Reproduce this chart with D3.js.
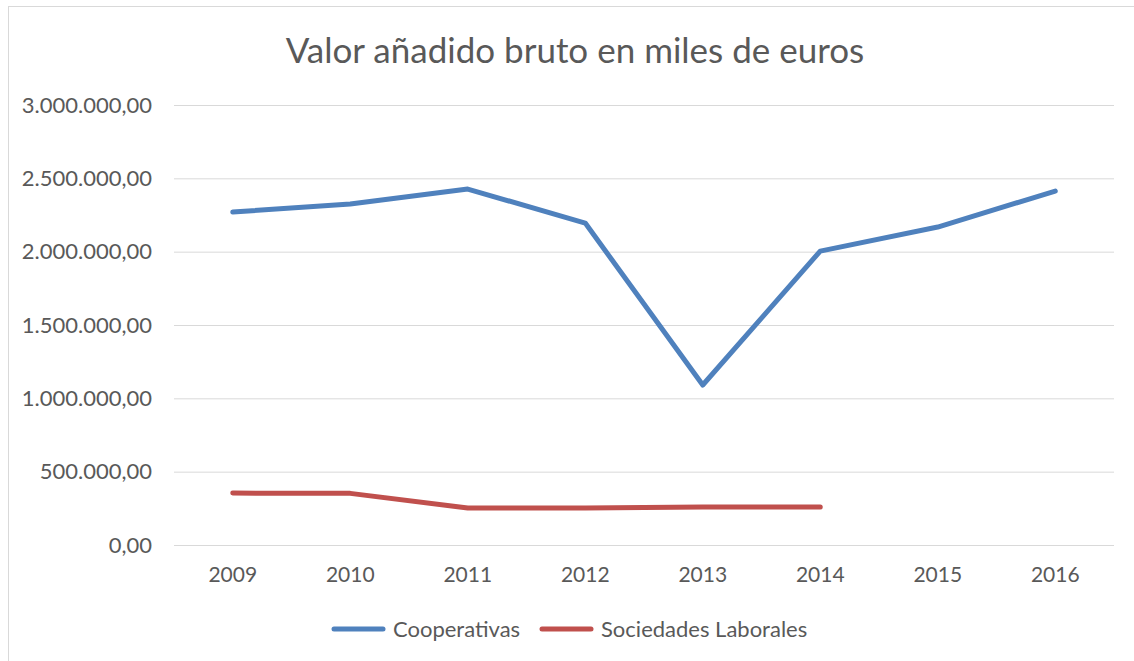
<!doctype html>
<html lang="es">
<head>
<meta charset="utf-8">
<style>
  body { margin: 0; background: #fff; }
  text { font-family: Lato, "Noto Sans", sans-serif; fill: #595959; }
</style>
</head>
<body>
<div id="grafico"></div>
<script src="https://d3js.org/d3.v7.min.js"></script>
<script>

var anios = ["2009", "2010", "2011", "2012", "2013", "2014", "2015", "2016"];
var cooperativas = [2270000, 2325000, 2427000, 2195000, 1091000, 2004000, 2168000, 2413000];
var sociedades = [354000, 352000, 252000, 252000, 259000, 259000];
var ticksY = [0, 500000, 1000000, 1500000, 2000000, 2500000, 3000000];

var w = 1134, h = 661;
var margen = {izq: 174, der: 1114, arriba: 105, abajo: 545};

var svg = d3.select("#grafico").append("svg").attr("width", w).attr("height", h);

// marco del gráfico (solo se ven los bordes izquierdo y superior)
svg.append("rect").attr("x", 8.5).attr("y", 6.5).attr("width", w + 20).attr("height", h + 20)
  .attr("fill", "#fff").attr("stroke", "#d9d9d9");

var x = d3.scaleBand().domain(anios).range([margen.izq, margen.der]);
var y = d3.scaleLinear().domain([0, 3000000]).range([margen.abajo, margen.arriba]);

var formato = d3.formatLocale({decimal: ",", thousands: ".", grouping: [3], currency: ["", "€"]}).format(",.2f");

// rejilla + etiquetas Y
var ejeY = d3.axisLeft(y).tickValues(ticksY).tickFormat(formato).tickSize(-(margen.der - margen.izq)).tickPadding(22);
var gY = svg.append("g").attr("transform", "translate(" + margen.izq + ",0)").call(ejeY);
gY.select(".domain").remove();
gY.selectAll("line").attr("stroke", "#d9d9d9").attr("stroke-width", 1);
gY.selectAll("text").style("font-size", "22px").attr("fill", "#595959");

// etiquetas X
var ejeX = d3.axisBottom(x).tickSize(0).tickPadding(22);
var gX = svg.append("g").attr("transform", "translate(0," + margen.abajo + ")").call(ejeX);
gX.select(".domain").remove();
gX.selectAll("text").style("font-size", "21px").attr("fill", "#595959");

var linea = d3.line()
  .x(function(d, i) { return x(anios[i]) + x.bandwidth() / 2; })
  .y(function(d) { return y(d); });

var series = [
  {nombre: "Cooperativas", valores: cooperativas, color: "#4f81bd"},
  {nombre: "Sociedades Laborales", valores: sociedades, color: "#c0504d"}
];

svg.selectAll("path.serie").data(series).enter().append("path")
  .attr("class", "serie")
  .attr("d", function(d) { return linea(d.valores); })
  .attr("fill", "none")
  .attr("stroke", function(d) { return d.color; })
  .attr("stroke-width", 5)
  .attr("stroke-linejoin", "round")
  .attr("stroke-linecap", "round");

// título
svg.append("text").attr("x", 575).attr("y", 63).attr("text-anchor", "middle")
  .style("font-size", "35px").text("Valor añadido bruto en miles de euros");

// leyenda
var posLeyenda = [332, 540];
var leyenda = svg.selectAll("g.leyenda").data(series).enter().append("g")
  .attr("class", "leyenda")
  .attr("transform", function(d, i) { return "translate(" + posLeyenda[i] + ",629)"; });
leyenda.append("line").attr("x1", 2).attr("x2", 51).attr("y1", 0).attr("y2", 0)
  .attr("stroke", function(d) { return d.color; }).attr("stroke-width", 5).attr("stroke-linecap", "round");
leyenda.append("text").attr("x", 61).attr("y", 7.5).style("font-size", "22px").text(function(d) { return d.nombre; });

</script>
</body>
</html>
